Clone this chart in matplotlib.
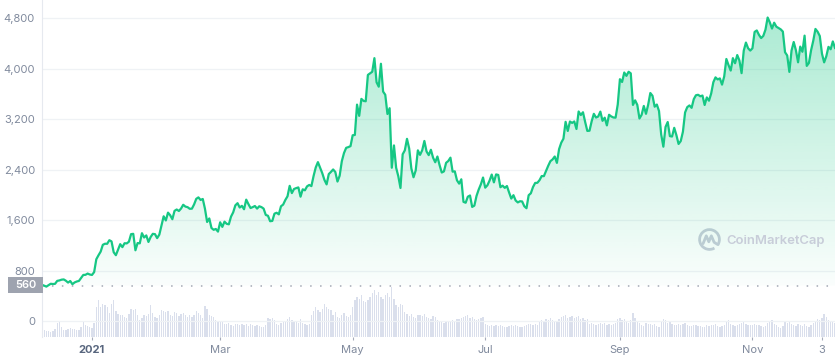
import matplotlib

matplotlib.use("Agg")
import matplotlib.dates as mdates
import matplotlib.pyplot as plt
import numpy as np
import pandas as pd
from matplotlib.colors import to_rgb
from matplotlib.patches import Arc, Rectangle

plt.rcParams["font.family"] = ["Inter", "DejaVu Sans"]

# daily ETH price (USD), 2020-12-09 .. 2021-12-09
price_dec2020 = [573, 560, 545, 568, 590, 586, 589, 636, 643, 655, 659, 638, 609, 634, 583, 611,
                 626, 635, 683, 730, 732, 752, 737]
price_jan = [730, 775, 979, 1042, 1100, 1208, 1225, 1224, 1281, 1262, 1090, 1043, 1130, 1218, 1171,
             1233, 1230, 1257, 1377, 1382, 1121, 1236, 1231, 1392, 1324, 1357, 1253, 1331, 1382, 1377, 1314]
price_feb = [1369, 1515, 1660, 1594, 1718, 1677, 1614, 1746, 1768, 1744, 1783, 1843, 1814, 1805,
             1779, 1781, 1848, 1937, 1960, 1919, 1935, 1781, 1570, 1626, 1475, 1446, 1459, 1417]
price_mar = [1565, 1492, 1575, 1541, 1533, 1655, 1723, 1834, 1868, 1799, 1826, 1772, 1924, 1854,
             1791, 1806, 1823, 1782, 1819, 1806, 1782, 1681, 1669, 1582, 1587, 1702, 1716, 1691, 1819, 1846, 1919]
price_apr = [1977, 2143, 2028, 2093, 2107, 2118, 1971, 2088, 2072, 2135, 2157, 2139, 2299, 2435,
             2519, 2431, 2344, 2237, 2166, 2330, 2364, 2403, 2363, 2211, 2303, 2534, 2663, 2746, 2757, 2773]
price_may = [2945, 2950, 3431, 3253, 3522, 3490, 3484, 3902, 3928, 3952, 4168, 3785, 3715, 4079,
             3638, 3587, 3282, 3374, 2430, 2784, 2430, 2295, 2109, 2643, 2706, 2888, 2736, 2419, 2279, 2386, 2706]
price_jun = [2634, 2707, 2855, 2688, 2630, 2715, 2590, 2517, 2608, 2471, 2354, 2372, 2508, 2537,
             2590, 2368, 2373, 2231, 2178, 2247, 1889, 1875, 1971, 1990, 1809, 1829, 1983, 2084, 2167, 2275]
price_jul = [2114, 2151, 2226, 2322, 2198, 2324, 2316, 2121, 2146, 2111, 2140, 2037, 1941, 1995,
             1911, 1880, 1899, 1895, 1819, 1788, 1994, 2025, 2124, 2189, 2191, 2233, 2298, 2297, 2381, 2461, 2534]
price_aug = [2562, 2608, 2507, 2725, 2827, 2890, 3158, 3013, 3163, 3141, 3164, 3045, 3322, 3266,
             3310, 3156, 3014, 3017, 3167, 3285, 3226, 3242, 3320, 3174, 3224, 3101, 3270, 3244, 3227, 3224, 3433]
price_sep = [3834, 3790, 3940, 3887, 3952, 3927, 3426, 3499, 3427, 3211, 3270, 3410, 3285, 3429,
             3615, 3571, 3398, 3432, 3329, 2958, 2764, 3077, 3155, 2931, 2925, 3063, 2947, 2807, 2853, 3001]
price_oct = [3307, 3391, 3418, 3380, 3518, 3580, 3587, 3563, 3575, 3425, 3545, 3493, 3606, 3786,
             3863, 3830, 3847, 3748, 3877, 4155, 4057, 3971, 4168, 4087, 4217, 4131, 3930, 4287, 4415, 4325, 4288]
price_nov = [4324, 4584, 4607, 4537, 4486, 4521, 4620, 4812, 4735, 4637, 4730, 4667, 4647, 4625,
             4589, 4262, 4210, 3950, 4289, 4424, 4294, 4102, 4351, 4269, 4525, 4045, 4092, 4294, 4445, 4631]
price_dec2021 = [4587, 4519, 4240, 4101, 4198, 4347, 4309, 4433, 4330]

# daily volume (billion USD)
vol_dec2020 = [12, 12, 10, 10, 9, 10, 14, 24, 26, 17, 12, 12, 14, 15, 14, 14, 12, 12, 17, 26, 20, 19, 17]
vol_jan = [15, 24, 51, 63, 51, 56, 54, 51, 41, 56, 63, 44, 39, 37, 37, 34, 32, 39, 48, 46, 48, 37,
           29, 32, 37, 36, 39, 54, 41, 34, 32]
vol_feb = [37, 46, 44, 43, 44, 37, 36, 43, 41, 36, 39, 41, 37, 34, 37, 34, 37, 44, 41, 37, 32, 53,
           48, 37, 36, 34, 29, 27]
vol_mar = [27, 26, 22, 22, 24, 20, 19, 22, 22, 20, 22, 20, 22, 19, 22, 20, 19, 20, 19, 17, 17, 20,
           32, 31, 32, 29, 22, 20, 24, 26, 27]
vol_apr = [31, 34, 29, 27, 26, 24, 31, 24, 22, 20, 22, 37, 44, 51, 46, 43, 48, 56, 51, 48, 46, 37,
           43, 34, 32, 37, 41, 36, 34, 37]
vol_may = [51, 63, 68, 65, 71, 61, 60, 63, 68, 75, 80, 71, 77, 68, 65, 71, 75, 68, 85, 65, 54, 51,
           56, 54, 43, 39, 36, 39, 34, 32, 37]
vol_jun = [37, 36, 39, 34, 32, 31, 36, 34, 29, 27, 26, 24, 26, 27, 26, 29, 27, 31, 31, 32, 34, 36,
           37, 32, 34, 31, 29, 31, 32, 34]
vol_jul = [22, 20, 19, 20, 19, 20, 19, 20, 19, 17, 17, 19, 20, 19, 20, 19, 17, 17, 19, 20, 22, 22,
           20, 22, 20, 26, 29, 27, 31, 29, 32]
vol_aug = [29, 26, 27, 31, 34, 36, 37, 32, 34, 36, 32, 34, 36, 31, 32, 29, 31, 22, 24, 22, 20, 22,
           24, 22, 24, 20, 22, 20, 22, 24, 31]
vol_sep = [32, 29, 31, 26, 24, 29, 41, 32, 26, 24, 20, 19, 24, 22, 22, 20, 22, 19, 17, 27, 31, 29,
           24, 27, 22, 20, 20, 22, 20, 22]
vol_oct = [24, 20, 19, 19, 20, 20, 19, 19, 17, 17, 20, 19, 20, 20, 22, 19, 17, 19, 20, 27, 29, 22,
           20, 19, 20, 22, 24, 26, 22, 20, 20]
vol_nov = [20, 22, 20, 20, 19, 17, 19, 24, 27, 29, 22, 20, 17, 15, 19, 26, 24, 27, 22, 20, 19, 22,
           20, 19, 22, 19, 17, 20, 24, 27]
vol_dec2021 = [31, 29, 32, 39, 34, 29, 27, 26, 24]

price_ticks = [0, 800, 1600, 2400, 3200, 4000, 4800]
date_ticks = ["2021-01-01", "2021-03-01", "2021-05-01", "2021-07-01", "2021-09-01", "2021-11-01", "2021-12-03"]
date_labels = ["2021", "Mar", "May", "Jul", "Sep", "Nov", "3"]
start_price = 560

GREEN = "#16c784"
GRID = "#eff2f5"
LABEL = "#808a9d"

prices = np.array(price_dec2020 + price_jan + price_feb + price_mar + price_apr + price_may + price_jun
                  + price_jul + price_aug + price_sep + price_oct + price_nov + price_dec2021, dtype=float)
volumes = np.array(vol_dec2020 + vol_jan + vol_feb + vol_mar + vol_apr + vol_may + vol_jun + vol_jul
                   + vol_aug + vol_sep + vol_oct + vol_nov + vol_dec2021, dtype=float)
dates = pd.date_range("2020-12-09", periods=len(prices), freq="D")
x = mdates.date2num(dates)

W, H = 835, 359
fig = plt.figure(figsize=(W / 100, H / 100), dpi=100)
ax = fig.add_axes([42 / W, (H - 337) / H, (W - 42) / W, 337 / H])
y_top, y_bot = 5090, -254

# volume bars on a twin axis, scaled so the tallest is ~50 px
ax2 = ax.twinx()
ax2.bar(x, volumes, width=0.6, color="#dadfec", zorder=1)
ax2.set_ylim(0, volumes.max() * 337 / 50)
ax2.set_yticks([])
for s in ax2.spines.values():
    s.set_visible(False)

# gradient fill under the price line
poly = ax.fill_between(x, prices, start_price, color="none", lw=0)
n = 256
grad = np.zeros((n, 1, 4))
grad[:, 0, :3] = to_rgb(GREEN)
grad[:, 0, 3] = np.linspace(0.38, 0.02, n)
img = ax.imshow(grad, extent=[x[0], x[-1], start_price, y_top], origin="upper", aspect="auto", zorder=2)
img.set_clip_path(poly.get_paths()[0], transform=ax.transData)

ax.plot(x, prices, color=GREEN, lw=1.6, zorder=4, solid_joinstyle="round")
ax.axhline(start_price, color="#a3a8b4", lw=1.1, ls=(0, (1, 5.5)), zorder=3)

ax.set_xlim(x[0], x[-1])
ax.set_ylim(y_bot, y_top)
ax.set_aspect("auto")
ax.set_zorder(ax2.get_zorder() + 1)
ax.patch.set_visible(False)

ax.set_yticks(price_ticks)
ax.set_yticklabels([f"{v:,}" for v in price_ticks])
ax.tick_params(axis="y", length=0, pad=5, labelsize=8, labelcolor=LABEL)
ax.grid(True, axis="y", color=GRID, lw=0.9, zorder=0)

ax.set_xticks(mdates.date2num(pd.to_datetime(date_ticks)))
ax.set_xticklabels(date_labels)
ax.tick_params(axis="x", length=2.5, width=0.8, color="#a6acba", pad=3, labelsize=8, labelcolor=LABEL)
xl = ax.get_xticklabels()
xl[0].set_fontweight("bold")
xl[0].set_color("#58667e")

for side in ["top", "right", "bottom"]:
    ax.spines[side].set_visible(False)
ax.spines["left"].set_color("#e6e9ef")
ax.spines["left"].set_linewidth(0.8)

# current-price tag on the left
fig.patches.append(Rectangle((8 / W, (H - 293) / H), 35 / W, 16 / H, transform=fig.transFigure,
                             facecolor="#9ea3af", edgecolor="none"))
fig.text(25.5 / W, (H - 285) / H, "560", ha="center", va="center", color="white", fontsize=8,
         fontweight="semibold")

# watermark
lax = fig.add_axes([698 / W, (H - 251) / H, 23 / W, 23 / H])
lax.set_xlim(0, 1)
lax.set_ylim(0, 1)
lax.axis("off")
wm = "#c8cdd9"
lax.add_patch(Arc((0.5, 0.5), 0.86, 0.86, theta1=-35, theta2=300, color=wm, lw=2.0))
lax.plot([0.22, 0.36, 0.47, 0.58, 0.7, 0.86], [0.32, 0.66, 0.4, 0.66, 0.38, 0.28], color=wm, lw=2.0,
         solid_joinstyle="round", solid_capstyle="round")
fig.text(726 / W, (H - 241) / H, "CoinMarketCap", ha="left", va="center", color=wm, fontsize=9.4,
         fontweight="semibold")

fig.savefig("out.png", dpi=100)
